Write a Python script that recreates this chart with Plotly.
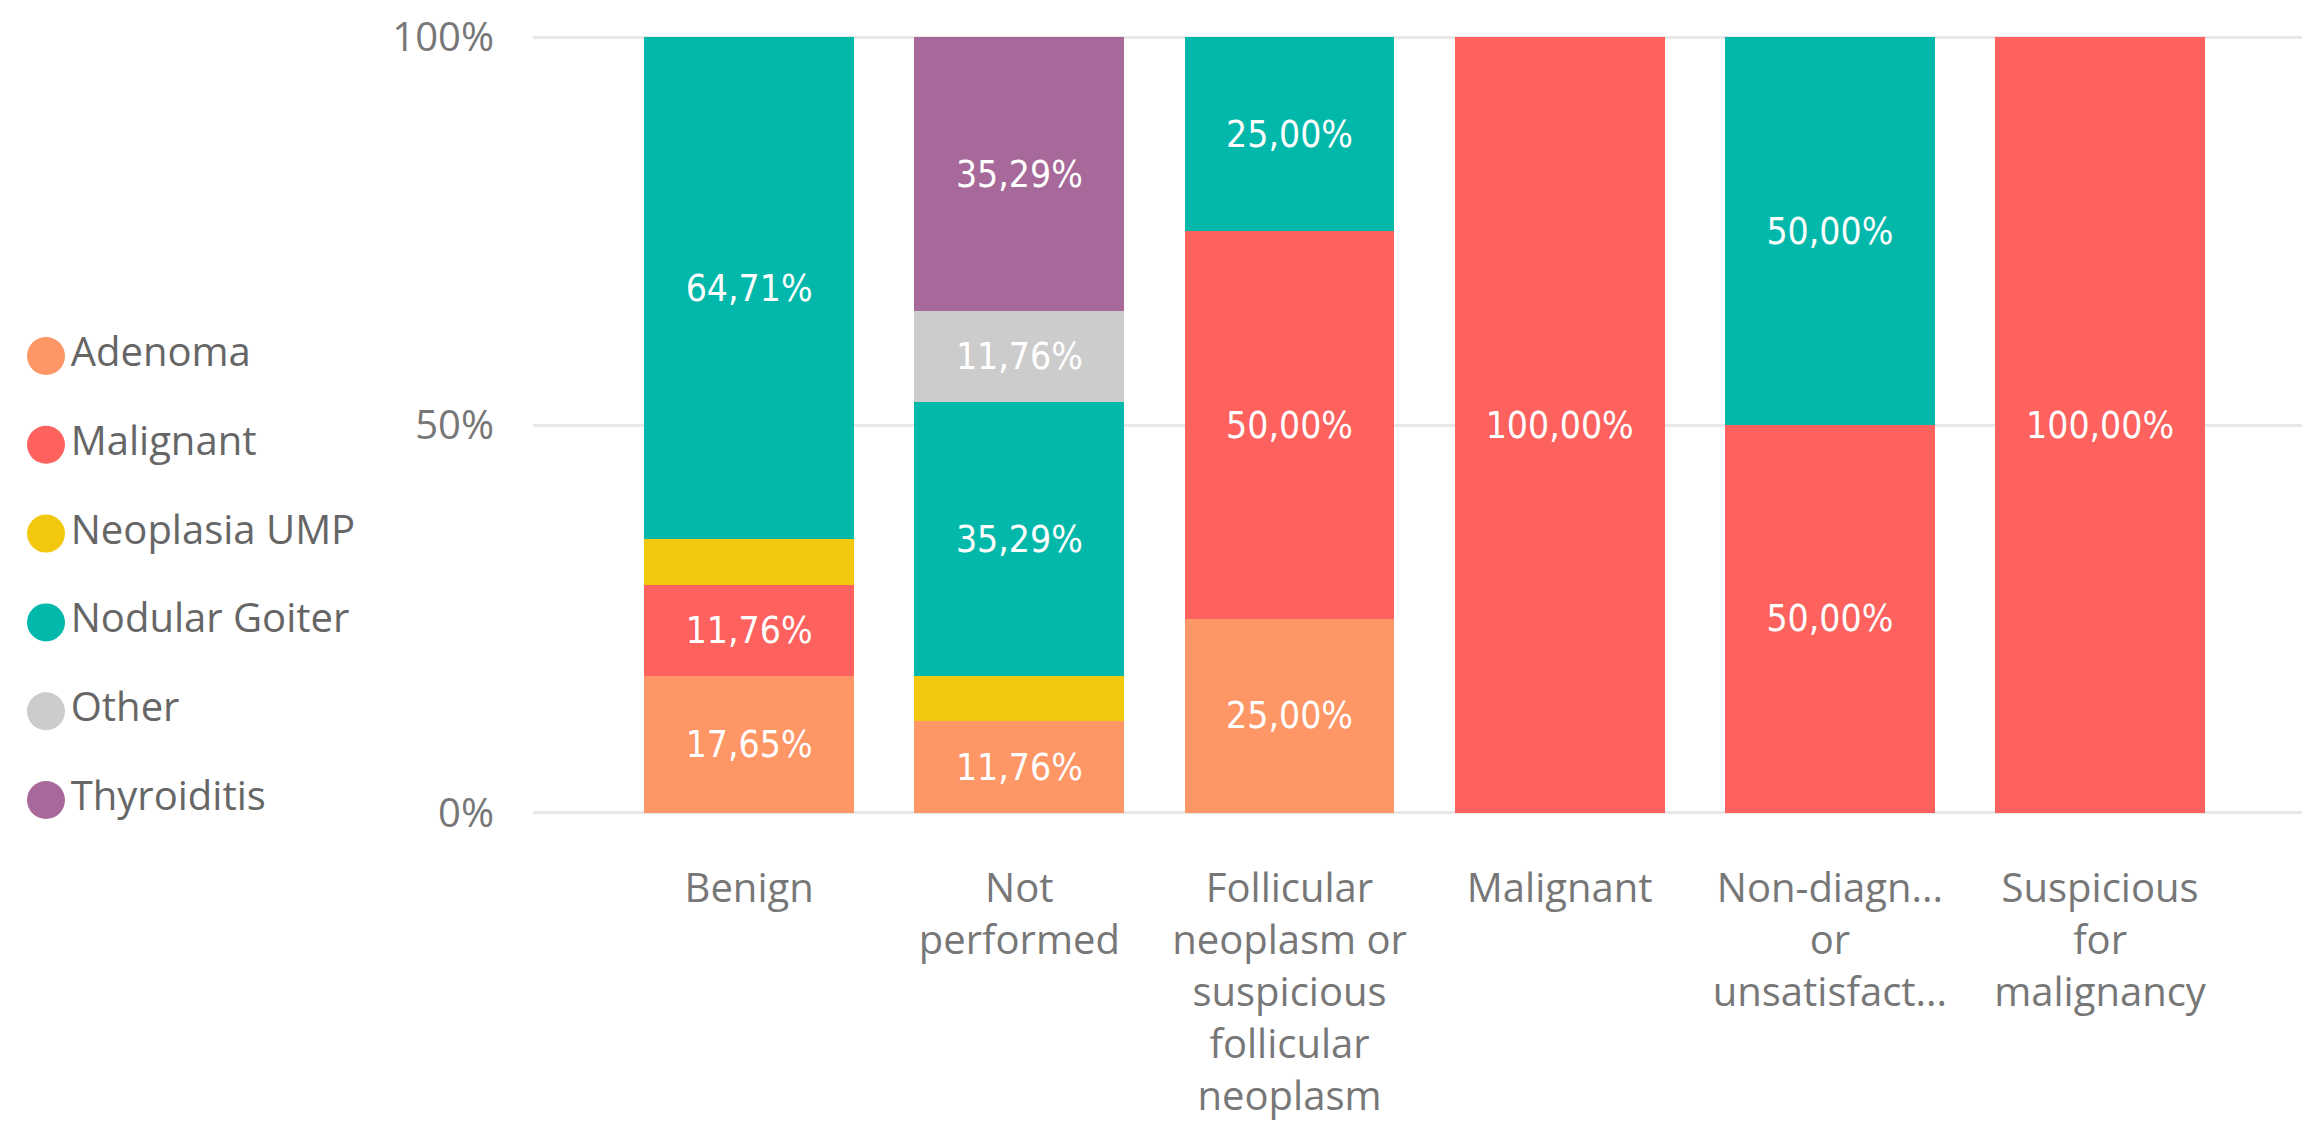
import plotly.graph_objects as go

# ---- data ----
categories = [
    "Benign",
    "Not performed",
    "Follicular neoplasm or suspicious follicular neoplasm",
    "Malignant",
    "Non-diagnostic or unsatisfactory",
    "Suspicious for malignancy",
]
tick_labels = [
    "Benign",
    "Not<br>performed",
    "Follicular<br>neoplasm or<br>suspicious<br>follicular<br>neoplasm",
    "Malignant",
    "Non-diagn...<br>or<br>unsatisfact...",
    "Suspicious<br>for<br>malignancy",
]
series_names = ["Adenoma", "Malignant", "Neoplasia UMP", "Nodular Goiter", "Other", "Thyroiditis"]
adenoma = [17.65, 11.76, 25.00, None, None, None]
malignant = [11.76, None, 50.00, 100.00, 50.00, 100.00]
neoplasia_ump = [5.88, 5.88, None, None, None, None]
nodular_goiter = [64.71, 35.29, 25.00, None, 50.00, None]
other = [None, 11.76, None, None, None, None]
thyroiditis = [None, 35.29, None, None, None, None]
series_values = [adenoma, malignant, neoplasia_ump, nodular_goiter, other, thyroiditis]
colors = ["#FE9666", "#FD625E", "#F2C80F", "#01B8AA", "#CCCCCC", "#A66999"]
y_ticks = [0, 50, 100]
y_tick_labels = ["0%", "50%", "100%"]

# page body has an 8px margin: figure occupies 8..2310 x 8..1129
W, H = 2302, 1121
AXIS_FONT = "Segoe UI, Open Sans, sans-serif"
LABEL_FONT = "DejaVu Sans Condensed, Roboto, sans-serif"


def fmt(v):
    if v is None or v < 10:
        return ""
    return f"{v:.2f}".replace(".", ",") + "%"


fig = go.Figure()
for name, vals, col in zip(series_names, series_values, colors):
    fig.add_trace(go.Bar(
        name=name,
        x=categories,
        y=vals,
        marker=dict(color=col, line=dict(width=0)),
        text=[fmt(v) for v in vals],
        texttemplate="%{text}",
        textposition="inside",
        insidetextanchor="middle",
        textangle=0,
        textfont=dict(family=LABEL_FONT, size=37, color="white"),
        width=0.777,
        showlegend=False,
        xaxis="x", yaxis="y",
    ))

# custom legend (large circular markers)
leg_w = 0.2 * W
fig.add_trace(go.Scatter(
    x=[0] * len(series_names),
    y=list(range(len(series_names))),
    mode="markers+text",
    marker=dict(size=38, color=colors, line=dict(width=0)),
    text=series_names,
    textposition="middle right",
    textfont=dict(family=AXIS_FONT, size=40, color="#666666"),
    showlegend=False,
    hoverinfo="skip",
    cliponaxis=False,
    xaxis="x2", yaxis="y2",
))

x0 = 525 / W
fig.update_layout(
    width=W, height=H,
    margin=dict(l=0, r=0, t=23, b=314, pad=0),
    paper_bgcolor="white",
    plot_bgcolor="white",
    barmode="stack",
    showlegend=False,
    xaxis=dict(
        domain=[x0, 1],
        range=[-0.8, 5.777],
        tickmode="array",
        tickvals=categories,
        ticktext=tick_labels,
        showgrid=False, zeroline=False, showline=False,
        ticks="",
        ticklabelstandoff=46,
        tickfont=dict(family=AXIS_FONT, size=40, color="#777777"),
        tickangle=0,
    ),
    yaxis=dict(
        range=[-0.3, 100.3],
        tickmode="array",
        tickvals=y_ticks,
        ticktext=y_tick_labels,
        showgrid=True, gridcolor="#E8E8E8", gridwidth=3,
        zeroline=False, showline=False,
        ticks="",
        ticklabelstandoff=38,
        ticklabeloverflow="allow",
        tickfont=dict(family=AXIS_FONT, size=40, color="#777777"),
        anchor="x",
    ),
    xaxis2=dict(
        domain=[0, 0.2], range=[-38, leg_w - 38],
        visible=False, fixedrange=True,
    ),
    yaxis2=dict(
        domain=[0, 1], range=[5.169, -3.615],
        visible=False, fixedrange=True, anchor="x2",
    ),
)

fig.write_html("out.html")
